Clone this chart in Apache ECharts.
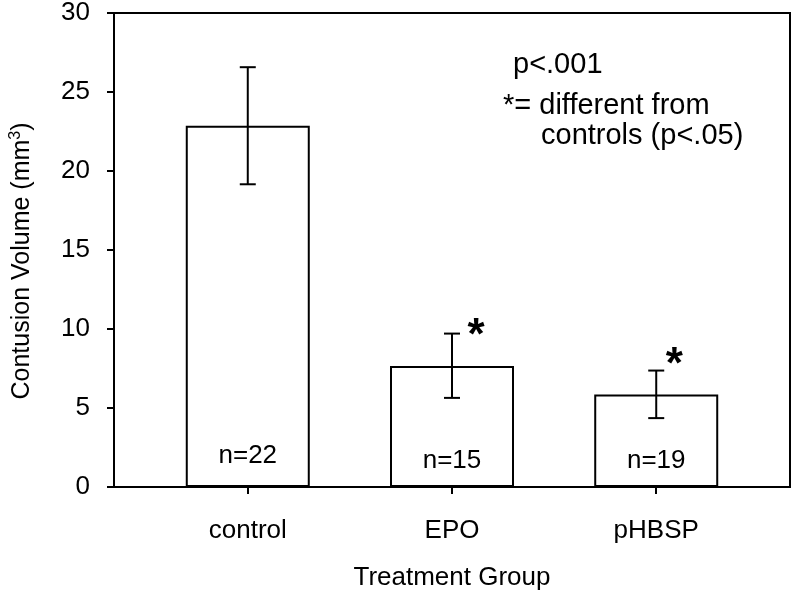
<!DOCTYPE html>
<html>
<head>
<meta charset="utf-8">
<script src="https://cdn.jsdelivr.net/npm/echarts@6/dist/echarts.min.js"></script>
<style>
html,body{margin:0;padding:0;background:#fff;}
#chart{width:793px;height:597px;}
</style>
</head>
<body>
<div id="chart"></div>
<script>
const categories = ['control', 'EPO', 'pHBSP'];
const means = [22.87, 7.66, 5.86];
const errUpper = [26.57, 9.71, 7.37];
const errLower = [19.16, 5.64, 4.36];
const nLabels = ['n=22', 'n=15', 'n=19'];
const significant = [false, true, true];
const yMin = 0, yMax = 30, yStep = 5;

const FONT = '"Liberation Sans", Arial, sans-serif';
const chart = echarts.init(document.getElementById('chart'));

const barData = means.map((v, i) => ({
  value: [i, v],
  label: { offset: [0, i === 0 ? -5 : 0] }
}));
const errData = categories.map((c, i) => [i, errLower[i], errUpper[i], significant[i] ? 1 : 0]);

const option = {
  animation: false,
  backgroundColor: '#fff',
  grid: {
    left: 110, top: 12, right: 3, bottom: 110,
    show: true, borderColor: '#000', borderWidth: 2, backgroundColor: 'transparent'
  },
  xAxis: {
    type: 'value',
    min: -0.655, max: 2.655,
    name: 'Treatment Group',
    nameLocation: 'middle',
    nameGap: 78,
    nameTextStyle: { fontFamily: FONT, fontSize: 26, color: '#000' },
    axisLine: { show: true, onZero: false, lineStyle: { color: '#000', width: 2 } },
    axisTick: { show: true, customValues: [0, 1, 2], length: 7, lineStyle: { color: '#000', width: 2 } },
    axisLabel: {
      customValues: [0, 1, 2],
      formatter: v => categories[Math.round(v)] || '',
      margin: 31,
      fontFamily: FONT, fontSize: 26, color: '#000'
    },
    splitLine: { show: false }
  },
  yAxis: {
    type: 'value',
    min: yMin, max: yMax, interval: yStep,
    name: '{a|Contusion Volume (mm}{s|3}{a|)}',
    nameLocation: 'middle',
    nameRotate: 90,
    nameGap: 78,
    nameTextStyle: {
      fontFamily: FONT, fontSize: 25, color: '#000',
      padding: [0, 22, 0, 0],
      rich: {
        a: { fontFamily: FONT, fontSize: 25, color: '#000' },
        s: { fontFamily: FONT, fontSize: 16, color: '#000', verticalAlign: 'top', padding: [0, 0, 12, 0] }
      }
    },
    axisLine: { show: true, onZero: false, lineStyle: { color: '#000', width: 2 } },
    axisTick: { show: true, inside: false, length: 7, lineStyle: { color: '#000', width: 2 } },
    axisLabel: { margin: 24, fontFamily: FONT, fontSize: 26, color: '#000' },
    splitLine: { show: false }
  },
  graphic: [
    { type: 'text', left: 513, top: 50, style: { text: 'p<.001', font: '29px ' + FONT, fill: '#000' } },
    { type: 'text', left: 503, top: 91, style: { text: '*= different from', font: '29px ' + FONT, fill: '#000' } },
    { type: 'text', left: 541, top: 121, style: { text: 'controls (p<.05)', font: '29px ' + FONT, fill: '#000' } }
  ],
  series: [
    {
      type: 'bar',
      data: barData,
      barWidth: 124,
      itemStyle: { color: '#fff', borderColor: '#000', borderWidth: 2 },
      label: {
        show: true,
        position: 'insideBottom',
        distance: 13,
        formatter: p => nLabels[p.dataIndex],
        fontFamily: FONT, fontSize: 26, color: '#000'
      },
      z: 2
    },
    {
      type: 'custom',
      data: errData,
      z: 5,
      renderItem: function (params, api) {
        const x = api.value(0);
        const lo = api.coord([x, api.value(1)]);
        const hi = api.coord([x, api.value(2)]);
        const cap = 8;
        const style = { stroke: '#000', lineWidth: 2 };
        const children = [
          { type: 'line', shape: { x1: hi[0], y1: hi[1], x2: lo[0], y2: lo[1] }, style: style },
          { type: 'line', shape: { x1: hi[0] - cap, y1: hi[1], x2: hi[0] + cap, y2: hi[1] }, style: style },
          { type: 'line', shape: { x1: lo[0] - cap, y1: lo[1], x2: lo[0] + cap, y2: lo[1] }, style: style }
        ];
        if (api.value(3)) {
          const dx = params.dataIndex === 1 ? 24 : 18;
          const dy = params.dataIndex === 1 ? 3 : -5;
          children.push({
            type: 'text',
            x: hi[0] + dx, y: hi[1] + dy,
            style: { text: '*', font: 'bold 44px ' + FONT, fill: '#000', align: 'center', verticalAlign: 'middle' }
          });
        }
        return { type: 'group', children: children };
      }
    }
  ]
};
chart.setOption(option);
</script>
</body>
</html>
